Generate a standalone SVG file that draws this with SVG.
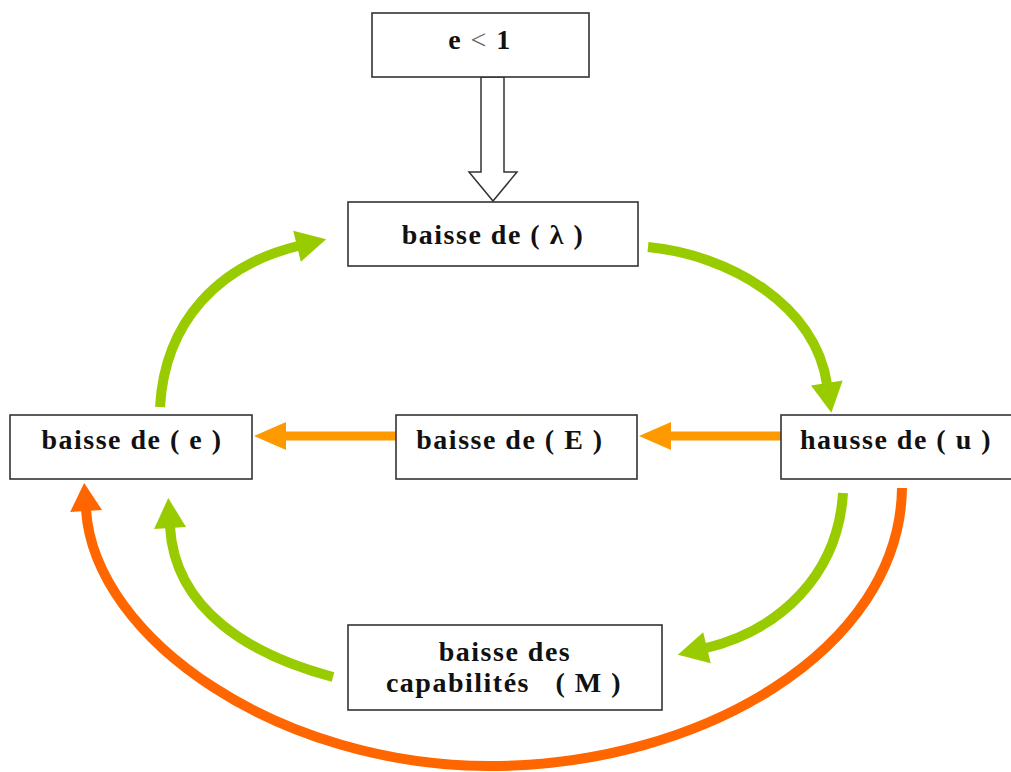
<svg xmlns="http://www.w3.org/2000/svg" width="1011" height="772" viewBox="0 0 1011 772">
<style>
.box{fill:#fff;stroke:#333;stroke-width:1.6}
.t{font-family:"Liberation Serif","Times New Roman",serif;font-weight:bold;font-size:28px;letter-spacing:1.5px;fill:#111;text-anchor:middle;white-space:pre}
.g{fill:none;stroke:#99CC00;stroke-width:10}
.o{fill:none;stroke:#FF9900;stroke-width:9}
.r{fill:none;stroke:#FF6600;stroke-width:10}
</style>
<defs>
<marker id="mg" markerUnits="userSpaceOnUse" orient="auto" refX="0" refY="0" markerWidth="40" markerHeight="40" style="overflow:visible"><path d="M-1,-16 L29,0 L-1,16 z" fill="#99CC00"/></marker>
<marker id="mo" markerUnits="userSpaceOnUse" orient="auto" refX="0" refY="0" markerWidth="40" markerHeight="40" style="overflow:visible"><path d="M-1,-14 L31,0 L-1,14 z" fill="#FF9900"/></marker>
<marker id="mr" markerUnits="userSpaceOnUse" orient="auto" refX="0" refY="0" markerWidth="40" markerHeight="40" style="overflow:visible"><path d="M-1,-16 L27,0 L-1,16 z" fill="#FF6600"/></marker>
</defs>
<g id="connectors">
<polygon points="481,77 504,77 504,172 517,172 493,201 469,172 481,172" fill="#fff" stroke="#333" stroke-width="1.5"/>
<path class="g" d="M648,247 C730,255 815,305 827,384" marker-end="url(#mg)"/>
<path class="o" d="M781,436 L670,436" marker-end="url(#mo)"/>
<path class="o" d="M397,436 L285,436" marker-end="url(#mo)"/>
<path class="g" d="M843,493 C838,575 780,630 706,648" marker-end="url(#mg)"/>
<path class="g" d="M333,677 C250,655 175,610 170,527" marker-end="url(#mg)"/>
<path class="g" d="M160,407 C165,320 220,265 298,246" marker-end="url(#mg)"/>
<path class="r" d="M902,488 C900,650 700,766 490,766 C280,766 95,640 86,510" marker-end="url(#mr)"/>
</g>
<g id="node-e-lt-1"><rect class="box" x="372" y="13" width="217" height="64"/><text class="t" x="480" y="49">e <tspan font-weight="normal" fill="#666">&lt;</tspan> 1</text></g>
<g id="node-lambda"><rect class="box" x="348" y="202" width="290" height="64"/><text class="t" x="493" y="244">baisse de ( λ )</text></g>
<g id="node-e"><rect class="box" x="10" y="415" width="242" height="64"/><text class="t" x="132" y="449">baisse de ( e )</text></g>
<g id="node-E"><rect class="box" x="396" y="415" width="241" height="64"/><text class="t" x="510" y="449">baisse de ( E )</text></g>
<g id="node-u"><rect class="box" x="781" y="415" width="240" height="64"/><text class="t" x="896" y="449">hausse de ( u )</text></g>
<g id="node-M"><rect class="box" x="348" y="625" width="314" height="85"/><text class="t" x="505" y="661">baisse des</text><text class="t" x="504" y="692">capabilités   ( M )</text></g>
</svg>
